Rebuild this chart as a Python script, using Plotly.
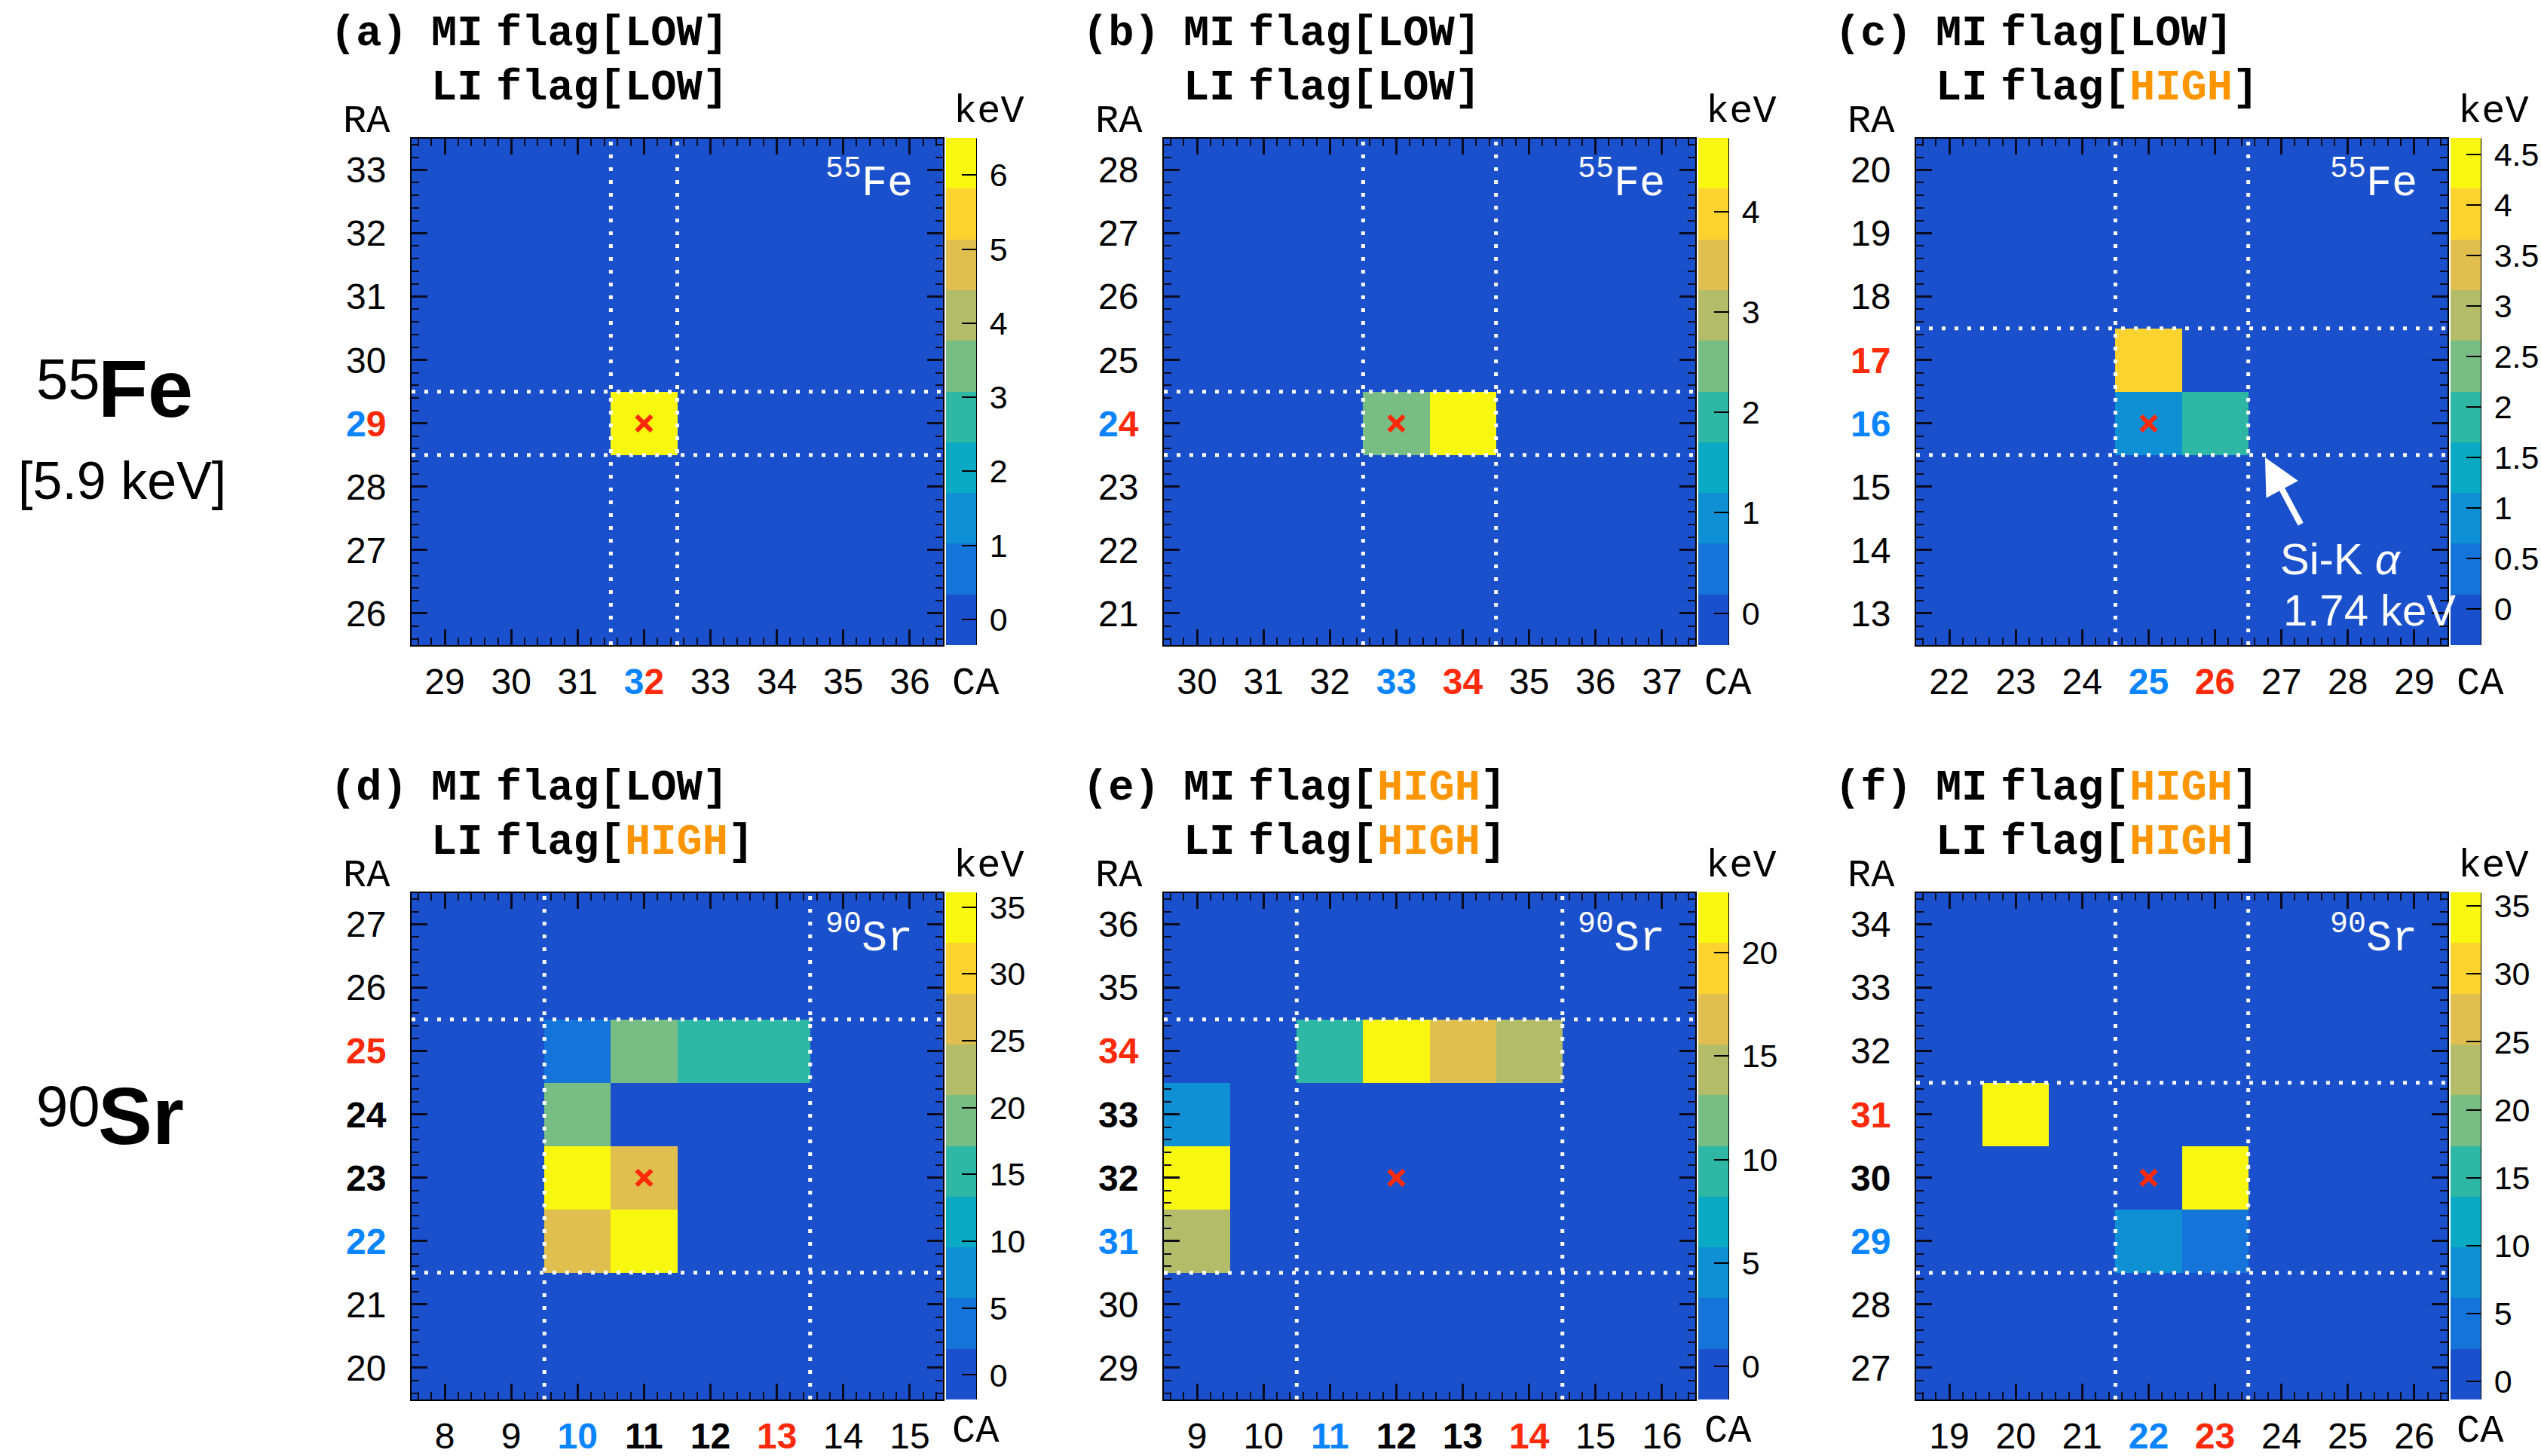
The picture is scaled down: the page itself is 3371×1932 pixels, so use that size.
import numpy as np
import plotly.graph_objects as go

W, H = 3371, 1932

# ---- panel descriptions -------------------------------------------------
panel_tags = ["(a)", "(b)", "(c)", "(d)", "(e)", "(f)"]
mi_flag = ["LOW", "LOW", "LOW", "LOW", "HIGH", "HIGH"]
li_flag = ["LOW", "LOW", "HIGH", "HIGH", "HIGH", "HIGH"]
source_mass = ["55", "55", "55", "90", "90", "90"]
source_elem = ["Fe", "Fe", "Fe", "Sr", "Sr", "Sr"]

# 8x8 pixel window shown in each panel (CA = column address, RA = row address)
ca_first = [29, 30, 22, 8, 9, 19]
ra_first = [26, 21, 13, 20, 29, 27]
NPIX = 8

# pixels with deposited energy: (CA, RA, keV); all other pixels are 0 keV
hits_a = [(32, 29, 6.2)]
hits_b = [(33, 24, 2.45), (34, 24, 4.5)]
hits_c = [(25, 17, 3.9), (25, 16, 0.9), (26, 16, 1.74)]
hits_d = [(10, 25, 4.0), (11, 25, 19.0), (12, 25, 15.3), (13, 25, 15.3),
          (10, 24, 19.0), (10, 23, 35.0), (11, 23, 26.5),
          (10, 22, 26.5), (11, 22, 34.5)]
hits_e = [(11, 34, 9.5), (12, 34, 22.0), (13, 34, 16.8), (14, 34, 14.3),
          (9, 33, 4.5), (9, 32, 22.0), (9, 31, 14.3)]
hits_f = [(20, 31, 35.0), (23, 30, 35.0), (22, 29, 8.0), (23, 29, 4.5)]
hits = [hits_a, hits_b, hits_c, hits_d, hits_e, hits_f]

# triggering (seed) pixel
seed_ca = [32, 33, 25, 11, 12, 22]
seed_ra = [29, 24, 16, 23, 32, 30]

# dotted readout-region boundaries
box_ca = [(31.5, 32.5), (32.5, 34.5), (24.5, 26.5), (9.5, 13.5), (10.5, 14.5), (21.5, 23.5)]
box_ra = [(28.5, 29.5), (23.5, 24.5), (15.5, 17.5), (21.5, 25.5), (30.5, 34.5), (28.5, 31.5)]

# colour-scale limits and colour-bar ticks (keV)
z_lo = [-0.35, -0.32, -0.36, -1.85, -1.6, -1.35]
z_hi = [6.5, 4.73, 4.66, 36.1, 22.9, 36.0]
cbar_ticks = [
    [0, 1, 2, 3, 4, 5, 6],
    [0, 1, 2, 3, 4],
    [0, 0.5, 1, 1.5, 2, 2.5, 3, 3.5, 4, 4.5],
    [0, 5, 10, 15, 20, 25, 30, 35],
    [0, 5, 10, 15, 20],
    [0, 5, 10, 15, 20, 25, 30, 35],
]

# highlighted address labels: b = blue, r = red, k = bold black (one letter per digit if split)
ca_marks = [{32: "br"}, {33: "b", 34: "r"}, {25: "b", 26: "r"},
            {10: "b", 11: "k", 12: "k", 13: "r"},
            {11: "b", 12: "k", 13: "k", 14: "r"}, {22: "b", 23: "r"}]
ra_marks = [{29: "br"}, {24: "br"}, {17: "r", 16: "b"},
            {25: "r", 24: "k", 23: "k", 22: "b"},
            {34: "r", 33: "k", 32: "k", 31: "b"}, {31: "r", 30: "k", 29: "b"}]

# ---- styling ------------------------------------------------------------
palette = ["#1a50cc", "#1474d9", "#0f8fd4", "#0aaac4", "#2db7a4",
           "#78bd83", "#b3bd69", "#e1bf4e", "#fcd22e", "#f8f710"]
colorscale = []
for k, col in enumerate(palette):
    colorscale.append([k / 10, col])
    colorscale.append([(k + 1) / 10, col])

MARK_COL = {"b": "#0a84ff", "r": "#ff2a0a", "k": "#000000"}
HIGH_COL = "#ff9500"
TICK_COL = "#0b0b1e"
MONO = "Liberation Mono"
SANS = "Liberation Sans"

col_left = [546, 1544, 2542]
row_top = [183.5, 1184.5]
ca_label_drop = [52, 42]
PW, PH = 705, 672.5


def fx(px):
    return px / W


def fy(py):
    return 1 - py / H


def label(v, style):
    s = str(v)
    if style is None:
        return s
    if len(style) == 1:
        return f'<b><span style="color:{MARK_COL[style]}">{s}</span></b>'
    return "".join(f'<span style="color:{MARK_COL[st]};font-weight:bold">{ch}</span>'
                   for ch, st in zip(s, style))


def flag_text(state):
    if state == "HIGH":
        return f'<b>flag[<span style="color:{HIGH_COL}">HIGH</span>]</b>'
    return f"<b>flag[{state}]</b>"


fig = go.Figure()
shapes = []
annotations = []
layout_axes = {}

for i in range(6):
    r, c = divmod(i, 3)
    left, top = col_left[c], row_top[r]
    right, bottom = left + PW, top + PH
    ca0, ra0 = ca_first[i], ra_first[i]
    cas = list(range(ca0, ca0 + NPIX))
    ras = list(range(ra0, ra0 + NPIX))

    z = np.zeros((NPIX, NPIX))
    for ca, ra, e in hits[i]:
        z[ra - ra0, ca - ca0] = e

    sfx = "" if i == 0 else str(i + 1)
    cb_left = right + 4
    fig.add_trace(go.Heatmap(
        x=cas, y=ras, z=z, zmin=z_lo[i], zmax=z_hi[i],
        colorscale=colorscale, xaxis="x" + sfx, yaxis="y" + sfx,
        hoverinfo="skip",
        colorbar=dict(
            x=fx(cb_left), xanchor="left", xpad=0, ypad=0,
            y=fy(top + PH / 2), yanchor="middle",
            thickness=40, thicknessmode="pixels",
            len=PH / H, lenmode="fraction",
            outlinewidth=0,
            tickmode="array", tickvals=cbar_ticks[i],
            ticktext=["\u2009" + f"{v:g}" for v in cbar_ticks[i]],
            ticks="inside", ticklen=19, tickwidth=2, tickcolor="black",
            tickfont=dict(family=SANS, size=43, color="black"),
        ),
    ))
    fig.add_trace(go.Scatter(
        x=[seed_ca[i]], y=[seed_ra[i]], mode="markers",
        xaxis="x" + sfx, yaxis="y" + sfx, hoverinfo="skip", showlegend=False,
        marker=dict(symbol="x-thin", size=20, line=dict(width=6, color="#ff2a0a")),
    ))

    common = dict(
        ticks="inside", ticklen=21, tickwidth=2.5, tickcolor=TICK_COL,
        showline=True, linecolor="black", linewidth=2, mirror="allticks",
        showgrid=False, zeroline=False, fixedrange=True,
        minor=dict(ticks="inside", ticklen=10, tickwidth=2, tickcolor=TICK_COL,
                   dtick=0.2, tick0=0, showgrid=False),
        tickfont=dict(family=SANS, size=48, color="black"),
        tickmode="array",
    )
    layout_axes["xaxis" + sfx] = dict(
        common, domain=[fx(left), fx(right)], range=[ca0 - 0.5, ca0 + NPIX - 0.5],
        anchor="y" + sfx, tickvals=cas, ticklabelstandoff=5,
        ticktext=[label(v, ca_marks[i].get(v)) for v in cas])
    layout_axes["yaxis" + sfx] = dict(
        common, domain=[fy(bottom), fy(top)], range=[ra0 - 0.5, ra0 + NPIX - 0.5],
        anchor="x" + sfx, tickvals=ras, ticklabelstandoff=22,
        ticktext=[label(v, ra_marks[i].get(v)) for v in ras])

    # dotted readout boundaries
    dot = dict(color="white", width=5, dash="5px,12px")
    for v in box_ca[i]:
        shapes.append(dict(type="line", xref="x" + sfx, yref="y" + sfx,
                           x0=v, x1=v, y0=ra0 - 0.5, y1=ra0 + NPIX - 0.5, line=dot))
    for v in box_ra[i]:
        shapes.append(dict(type="line", xref="x" + sfx, yref="y" + sfx,
                           x0=ca0 - 0.5, x1=ca0 + NPIX - 0.5, y0=v, y1=v, line=dot))
    # colour-bar axis line
    shapes.append(dict(type="line", xref="paper", yref="paper",
                       x0=fx(cb_left + 40), x1=fx(cb_left + 40),
                       y0=fy(bottom), y1=fy(top), line=dict(color="black", width=2)))

    # panel headings
    title_font = dict(family=MONO, size=57, color="black")
    heads = [
        dict(x=fx(left - 110), y=fy(top - 139), text=f"<b>{panel_tags[i]}</b>"),
        dict(x=fx(left + 24), y=fy(top - 139), text="<b>MI</b>"),
        dict(x=fx(left + 110), y=fy(top - 139), text=flag_text(mi_flag[i])),
        dict(x=fx(left + 24), y=fy(top - 67), text="<b>LI</b>"),
        dict(x=fx(left + 110), y=fy(top - 67), text=flag_text(li_flag[i])),
    ]
    for a in heads:
        a.update(xanchor="left", font=title_font)
    annotations += heads

    unit_font = dict(family=MONO, size=52, color="black")
    annotations += [
        dict(x=fx(left - 26), y=fy(top - 22), text="RA", xanchor="right", font=unit_font),
        dict(x=fx(cb_left + 8), y=fy(top - 35), text="keV", xanchor="left", font=unit_font),
        dict(x=fx(cb_left + 6), y=fy(bottom + ca_label_drop[r]), text="CA",
             xanchor="left", font=unit_font),
        dict(x=fx(right - 38), y=fy(top + 56), xanchor="right",
             text=f"<sup>{source_mass[i]}</sup>{source_elem[i]}",
             font=dict(family=MONO, size=57, color="white")),
    ]

# Si-K alpha escape annotation in panel (c)
annotations.append(dict(
    x=fx(3005), y=fy(607), ax=48, ay=90, text="", showarrow=True,
    arrowhead=2, arrowsize=1.2, arrowwidth=8, arrowcolor="white"))
annotations.append(dict(
    x=fx(3023), y=fy(742), xanchor="left", text="Si-K <i>α</i>",
    font=dict(family=SANS, size=58, color="white")))
annotations.append(dict(
    x=fx(3027), y=fy(810), xanchor="left", text="1.74 keV",
    font=dict(family=SANS, size=58, color="white")))

# row labels on the left
row_mass = ["55", "90"]
row_elem = ["Fe", "Sr"]
row_centre = [516, 1480]
for r in range(2):
    yc = row_centre[r]
    annotations += [
        dict(x=fx(90), y=fy(yc - 13), text=row_mass[r], xanchor="center",
             font=dict(family=SANS, size=76, color="black")),
        dict(x=fx(128), y=fy(yc), text=f"<b>{row_elem[r]}</b>", xanchor="left",
             font=dict(family=SANS, size=108, color="black")),
    ]
annotations.append(dict(x=fx(162), y=fy(638), text="[5.9 keV]", xanchor="center",
                        font=dict(family=SANS, size=70, color="black")))

for a in annotations:
    a.setdefault("xref", "paper")
    a.setdefault("yref", "paper")
    a.setdefault("showarrow", False)
    a.setdefault("yanchor", "middle")

fig.update_layout(
    width=W, height=H, autosize=False,
    margin=dict(l=0, r=0, t=0, b=0, autoexpand=False),
    paper_bgcolor="white", plot_bgcolor="white",
    showlegend=False, shapes=shapes, annotations=annotations,
    **layout_axes,
)

fig.write_html("out.html")
